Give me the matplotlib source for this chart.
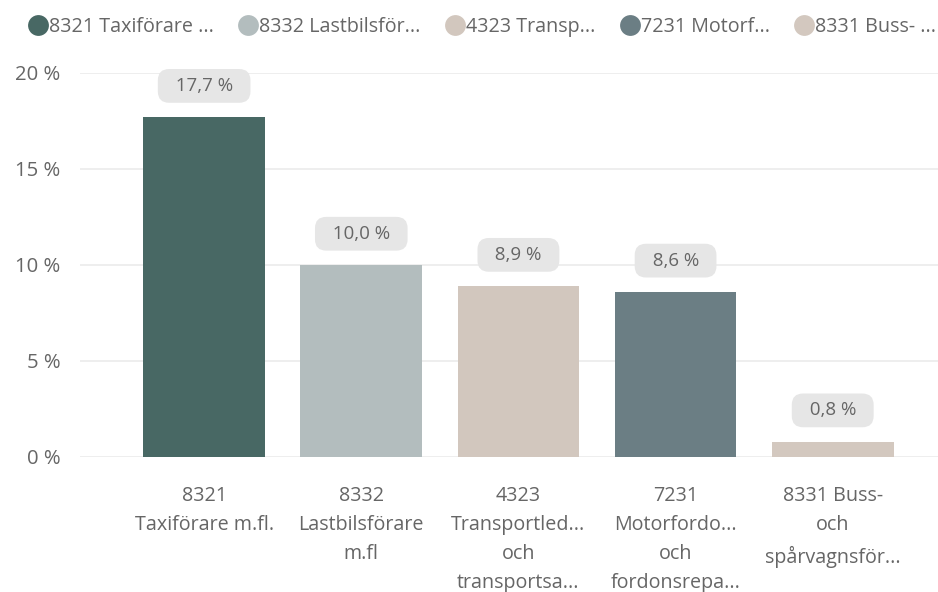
import matplotlib
matplotlib.use("Agg")
import matplotlib.pyplot as plt
from matplotlib.lines import Line2D

categories = [
    "8321\nTaxiförare m.fl.",
    "8332\nLastbilsförare\nm.fl",
    "4323\nTransportled...\noch\ntransportsa...",
    "7231\nMotorfordo...\noch\nfordonsrepa...",
    "8331 Buss-\noch\nspårvagnsför...",
]
legend_labels = [
    "8321 Taxiförare ...",
    "8332 Lastbilsför...",
    "4323 Transp...",
    "7231 Motorf...",
    "8331 Buss- ...",
]
values = [17.7, 10.0, 8.9, 8.6, 0.8]
value_labels = ["17,7 %", "10,0 %", "8,9 %", "8,6 %", "0,8 %"]
yticks = [0, 5, 10, 15, 20]
ytick_labels = ["0 %", "5 %", "10 %", "15 %", "20 %"]
colors = ["#486864", "#b3bdbe", "#d2c7be", "#6b7e84", "#d3c8bf"]

plt.rcParams["font.family"] = ["Open Sans", "DejaVu Sans"]
text_color = "#666666"
fs = 14.2

fig = plt.figure(figsize=(9.38, 5.92), dpi=100)
ax = fig.add_axes([80 / 938, 135 / 592, (938 - 80) / 938, (457 - 73) / 592])

x = list(range(len(values)))
ax.bar(x, values, width=0.775, color=colors, zorder=2)
ax.set_ylim(0, 20)
ax.set_xlim(-0.79, 4.67)

ax.set_yticks(yticks)
ax.set_yticklabels(ytick_labels, fontsize=14.6, color=text_color)
ax.set_xticks(x)
ax.set_xticklabels(categories, fontsize=fs, color=text_color, linespacing=1.6, va="top")
ax.tick_params(axis="both", length=0)
ax.tick_params(axis="y", pad=14)
ax.tick_params(axis="x", pad=21)
for s in ax.spines.values():
    s.set_visible(False)
ax.grid(axis="y", color="#ebebeb", linewidth=1.2, zorder=0)
ax.set_axisbelow(True)

for xi, v, lab in zip(x, values, value_labels):
    ax.annotate(f"  {lab}  ", (xi, v), xytext=(0, 22.5), textcoords="offset points",
                ha="center", va="center", fontsize=13.5, color=text_color,
                bbox=dict(boxstyle="round,pad=0.42,rounding_size=0.6", fc="#e6e6e6", ec="none"),
                clip_on=False, zorder=3)

handles = [Line2D([], [], marker="o", linestyle="none", markersize=15,
                  markerfacecolor=c, markeredgecolor="none") for c in colors]
fig.legend(handles, legend_labels, loc="center left",
           bbox_to_anchor=(27 / 938, 1 - 27 / 592, (936 - 27) / 938, 0.0),
           mode="expand", ncol=5, frameon=False, fontsize=fs, labelcolor=text_color,
           handletextpad=0.0, columnspacing=0.5, borderaxespad=0.0, borderpad=0.0,
           handlelength=1.1)

fig.savefig("out.png", dpi=100)
